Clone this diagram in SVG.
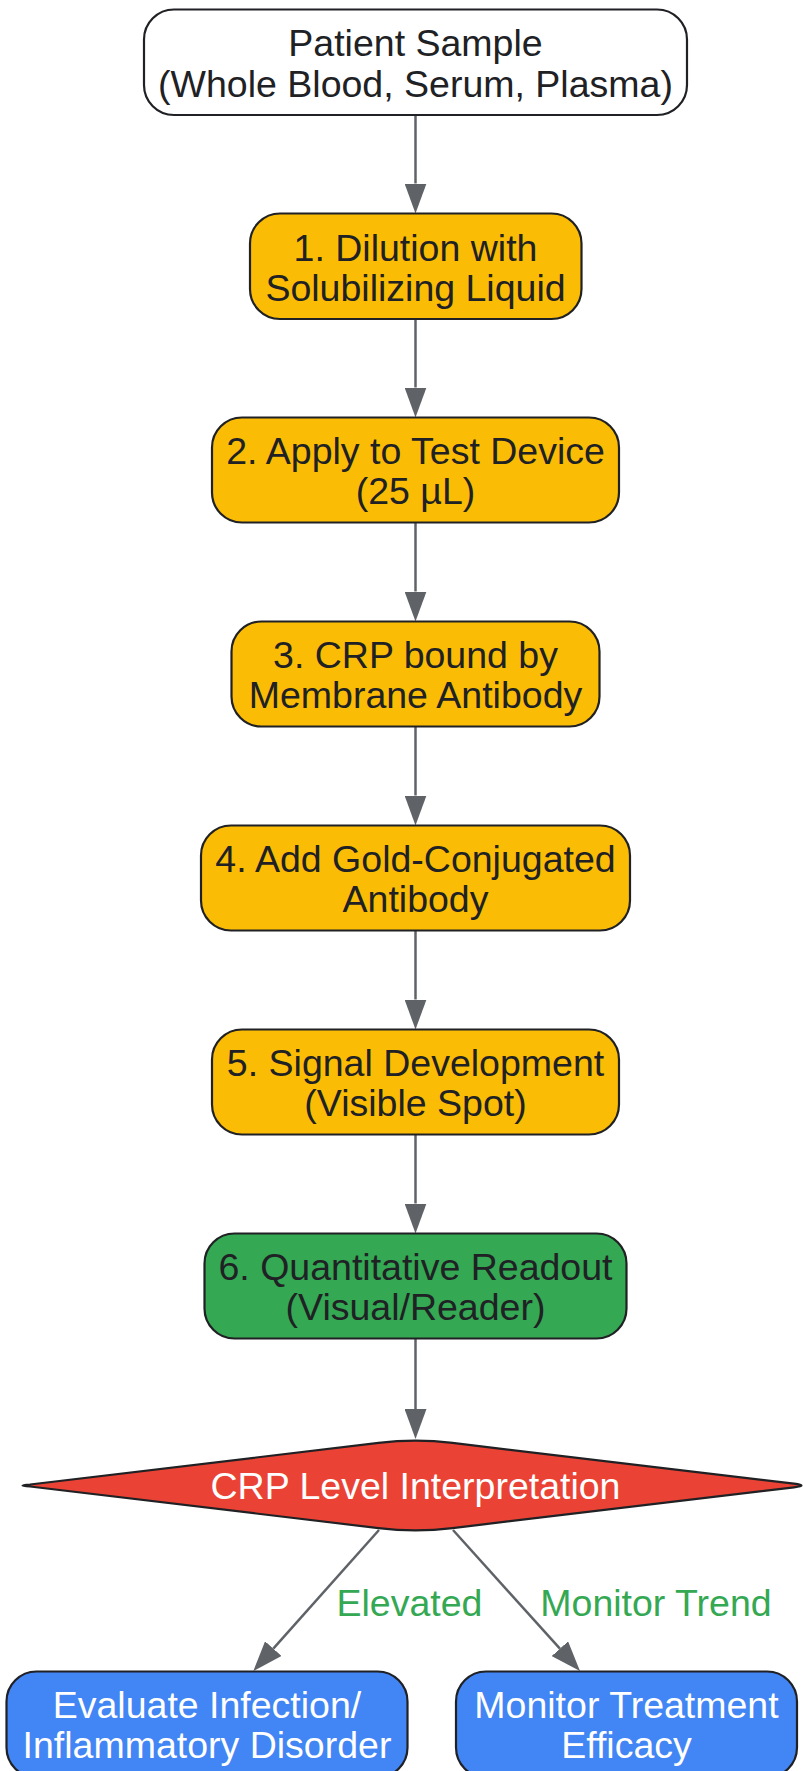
<svg xmlns="http://www.w3.org/2000/svg" width="803" height="1771" viewBox="0 0 803 1771">
<style>
.n{stroke:#202124;stroke-width:2.2}
.t{font-family:"Liberation Sans",Arial,sans-serif;font-size:37.5px;text-anchor:middle;fill:#202124}
.w{fill:#ffffff}
.e{stroke:#5f6368;stroke-width:2.5;fill:none;marker-end:url(#ah)}
.l{font-family:"Liberation Sans",Arial,sans-serif;font-size:37.5px;text-anchor:middle;fill:#34A853}
.y{fill:#FBBC05}
</style>
<defs>
<marker id="ah" markerUnits="userSpaceOnUse" markerWidth="30" markerHeight="22" viewBox="0 0 30 22" refX="0" refY="11" orient="auto"><path d="M0,0 L30,11 L0,22 Z" fill="#5f6368"/></marker>
</defs>
<rect width="803" height="1771" fill="#ffffff"/>
<g id="connectors">
<line class="e" x1="415.5" y1="115" x2="415.5" y2="183.5"/>
<line class="e" x1="415.5" y1="319" x2="415.5" y2="387.5"/>
<line class="e" x1="415.5" y1="522.5" x2="415.5" y2="591.5"/>
<line class="e" x1="415.5" y1="726.5" x2="415.5" y2="795.5"/>
<line class="e" x1="415.5" y1="930.5" x2="415.5" y2="999.5"/>
<line class="e" x1="415.5" y1="1134.5" x2="415.5" y2="1203.5"/>
<line class="e" x1="415.5" y1="1338.5" x2="415.5" y2="1409"/>
<line class="e" x1="379" y1="1530" x2="273.3" y2="1648.6"/>
<line class="e" x1="453" y1="1530" x2="559.9" y2="1648.7"/>
<text class="l" x="409.5" y="1616">Elevated</text>
<text class="l" x="656" y="1616">Monitor Trend</text>
</g>
<g id="sample">
<rect class="n" x="144" y="9.5" width="543" height="105.5" rx="30" fill="#ffffff"/>
<text class="t" x="415.5" y="56">Patient Sample</text>
<text class="t" x="415.5" y="97">(Whole Blood, Serum, Plasma)</text>
</g>
<g id="step1">
<rect class="n y" x="250" y="213.5" width="331.5" height="105.5" rx="30"/>
<text class="t" x="415.5" y="260.5">1. Dilution with</text>
<text class="t" x="415.5" y="301">Solubilizing Liquid</text>
</g>
<g id="step2">
<rect class="n y" x="212" y="417.5" width="407" height="105" rx="30"/>
<text class="t" x="415.5" y="464">2. Apply to Test Device</text>
<text class="t" x="415.5" y="504">(25 µL)</text>
</g>
<g id="step3">
<rect class="n y" x="231.5" y="621.5" width="368" height="105" rx="30"/>
<text class="t" x="415.5" y="668">3. CRP bound by</text>
<text class="t" x="415.5" y="708">Membrane Antibody</text>
</g>
<g id="step4">
<rect class="n y" x="201" y="825.5" width="429" height="105" rx="30"/>
<text class="t" x="415.5" y="872">4. Add Gold-Conjugated</text>
<text class="t" x="415.5" y="912">Antibody</text>
</g>
<g id="step5">
<rect class="n y" x="212" y="1029.5" width="407" height="105" rx="30"/>
<text class="t" x="415.5" y="1076">5. Signal Development</text>
<text class="t" x="415.5" y="1116">(Visible Spot)</text>
</g>
<g id="step6">
<rect class="n" x="204.5" y="1233.5" width="422" height="105" rx="30" fill="#34A853"/>
<text class="t" x="415.5" y="1280">6. Quantitative Readout</text>
<text class="t" x="415.5" y="1320">(Visual/Reader)</text>
</g>
<g id="interpretation">
<path class="n" fill="#EA4335" d="M378.5,1442.9 Q415.5,1438.5 452.5,1442.9 L794,1483.7 Q809,1485.5 794,1487.3 L452.5,1528.1 Q415.5,1532.5 378.5,1528.1 L30,1486.5 Q15,1485.5 30,1484.5 Z"/>
<text class="t w" x="415.5" y="1498.5">CRP Level Interpretation</text>
</g>
<g id="evaluate">
<rect class="n" x="6.5" y="1671.5" width="401" height="106" rx="30" fill="#4285F4"/>
<text class="t w" x="207" y="1717.5">Evaluate Infection/</text>
<text class="t w" x="207" y="1758">Inflammatory Disorder</text>
</g>
<g id="monitor">
<rect class="n" x="456" y="1671.5" width="341" height="106" rx="30" fill="#4285F4"/>
<text class="t w" x="626.5" y="1717.5">Monitor Treatment</text>
<text class="t w" x="626.5" y="1758">Efficacy</text>
</g>
</svg>
